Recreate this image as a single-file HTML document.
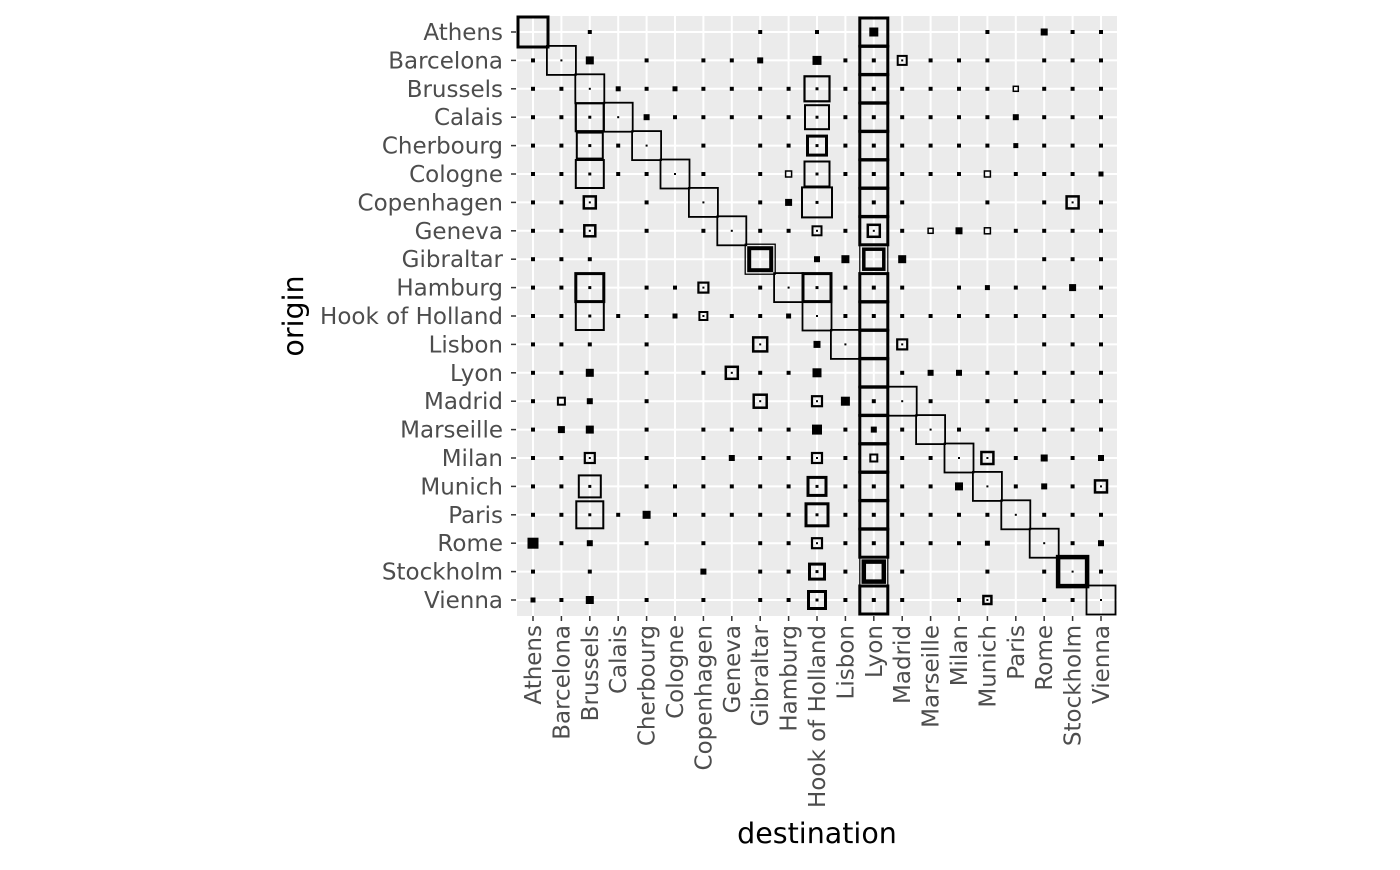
<!DOCTYPE html>
<html><head><meta charset="utf-8"><style>
body{margin:0;background:#fff;}
svg text{font-family:"DejaVu Sans","Liberation Sans",sans-serif;}
</style></head><body>
<svg id="s" width="1400" height="865" viewBox="0 0 1400 865" xmlns="http://www.w3.org/2000/svg">
<rect x="517" y="16" width="600" height="600" fill="#ebebeb"/>
<g id="grid" stroke="#fff" stroke-width="2"></g>
<g id="marks"></g>
<g id="ticks" stroke="#333" stroke-width="1.5"></g>
<g font-size="23" fill="#4d4d4d" text-anchor="end">
<text x="503" y="40">Athens</text>
<text x="503" y="68.4">Barcelona</text>
<text x="503" y="96.8">Brussels</text>
<text x="503" y="125.2">Calais</text>
<text x="503" y="153.6">Cherbourg</text>
<text x="503" y="182">Cologne</text>
<text x="503" y="210.4">Copenhagen</text>
<text x="503" y="238.8">Geneva</text>
<text x="503" y="267.2">Gibraltar</text>
<text x="503" y="295.6">Hamburg</text>
<text x="503" y="324">Hook of Holland</text>
<text x="503" y="352.4">Lisbon</text>
<text x="503" y="380.8">Lyon</text>
<text x="503" y="409.2">Madrid</text>
<text x="503" y="437.6">Marseille</text>
<text x="503" y="466">Milan</text>
<text x="503" y="494.4">Munich</text>
<text x="503" y="522.8">Paris</text>
<text x="503" y="551.2">Rome</text>
<text x="503" y="579.6">Stockholm</text>
<text x="503" y="608">Vienna</text>
</g>
<g font-size="23" fill="#4d4d4d" text-anchor="end">
<text transform="translate(541,625) rotate(-90)">Athens</text>
<text transform="translate(569.4,625) rotate(-90)">Barcelona</text>
<text transform="translate(597.8,625) rotate(-90)">Brussels</text>
<text transform="translate(626.2,625) rotate(-90)">Calais</text>
<text transform="translate(654.6,625) rotate(-90)">Cherbourg</text>
<text transform="translate(683,625) rotate(-90)">Cologne</text>
<text transform="translate(711.4,625) rotate(-90)">Copenhagen</text>
<text transform="translate(739.8,625) rotate(-90)">Geneva</text>
<text transform="translate(768.2,625) rotate(-90)">Gibraltar</text>
<text transform="translate(796.6,625) rotate(-90)">Hamburg</text>
<text transform="translate(825,625) rotate(-90)">Hook of Holland</text>
<text transform="translate(853.4,625) rotate(-90)">Lisbon</text>
<text transform="translate(881.8,625) rotate(-90)">Lyon</text>
<text transform="translate(910.2,625) rotate(-90)">Madrid</text>
<text transform="translate(938.6,625) rotate(-90)">Marseille</text>
<text transform="translate(967,625) rotate(-90)">Milan</text>
<text transform="translate(995.4,625) rotate(-90)">Munich</text>
<text transform="translate(1023.8,625) rotate(-90)">Paris</text>
<text transform="translate(1052.2,625) rotate(-90)">Rome</text>
<text transform="translate(1080.6,625) rotate(-90)">Stockholm</text>
<text transform="translate(1109,625) rotate(-90)">Vienna</text>
</g>
<text x="817" y="843" font-size="28.5" text-anchor="middle" fill="#000">destination</text>
<text transform="translate(303,316) rotate(-90)" font-size="28.5" text-anchor="middle" fill="#000">origin</text>
</svg>
<script>
var X=function(i){return 533+28.4*i}, Y=function(j){return 32+28.4*j};
var g=document.getElementById('grid'),m=document.getElementById('marks'),t=document.getElementById('ticks');
var h='',tk='';
for(var i=0;i<21;i++){h+='<line x1="'+X(i)+'" y1="16" x2="'+X(i)+'" y2="616"/><line x1="517" y1="'+Y(i)+'" x2="1117" y2="'+Y(i)+'"/>';
tk+='<line x1="'+X(i)+'" y1="616" x2="'+X(i)+'" y2="621"/><line x1="511" y1="'+Y(i)+'" x2="516" y2="'+Y(i)+'"/>';}
g.innerHTML=h;t.innerHTML=tk;
var R=[
[2,8,10,[12,'f',9],16,[18,'f',7],19,20],
[0,1,[2,'f',8],4,6,7,[8,'f',6],[10,'f',9],11,12,[13,'b',9,2],14,15,16,18,19,20],
[0,1,2,[3,'f',5],4,[5,'f',5],6,7,8,9,[10,'b',25,2.2],11,12,13,14,15,16,[17,'b',5,1.5],18,19,20],
[0,1,[2,'b',28,2.2],3,[4,'f',6],5,6,7,8,9,[10,'b',24,2],11,12,13,14,15,16,[17,'f',6],18,19,20],
[0,1,[2,'b',26,2],3,4,6,8,9,[10,'b',19,3],11,12,13,14,15,16,[17,'f',5],18,19,20],
[0,1,[2,'b',28,2],3,4,5,6,8,[9,'b',6,1.5],[10,'b',25,2],11,12,13,14,15,[16,'b',6,1.5],17,18,19,[20,'f',5]],
[0,1,[2,'b',12,2.5],4,6,8,[9,'f',7],[10,'b',30,2],12,13,16,18,[19,'b',12,2.5],20],
[0,1,[2,'b',11,2.5],4,6,7,8,9,[10,'b',9,2],11,[12,'b',12,2.5],13,[14,'b',5,1.5],[15,'f',7],[16,'b',6,1.5],17,18,19,20],
[0,1,2,[10,'f',6],[11,'f',8],[13,'f',8],18,19,20],
[0,1,[2,'b',28,3],4,5,[6,'b',10,2.2],8,9,[10,'b',28,3],11,12,13,15,[16,'f',5],17,18,[19,'f',7],20],
[0,1,[2,'b',28,2],3,4,[5,'f',5],[6,'b',8,2],7,8,[9,'f',5],10,11,12,13,14,15,16,17,18,19,20],
[0,1,2,4,[8,'b',14,2.5],[10,'f',7],11,[13,'b',10,2.2],18,19,20],
[0,1,[2,'f',8],4,6,[7,'b',12,2.5],8,9,[10,'f',9],13,[14,'f',6],[15,'f',6],16,17,18,19,20],
[0,[1,'b',7,2],[2,'f',6],4,[8,'b',13,2.5],[10,'b',10,2.2],[11,'f',9],12,13,14,16,17,18,19,20],
[0,[1,'f',7],[2,'f',8],4,6,7,8,9,[10,'f',10],11,[12,'f',6],13,14,15,16,17,18,19,20],
[0,1,[2,'b',10,2.2],4,6,[7,'f',6],8,9,[10,'b',10,2.2],11,[12,'b',7,2],13,14,15,[16,'b',12,2.5],17,[18,'f',7],19,[20,'f',6]],
[0,1,[2,'b',22,2],4,5,6,7,8,9,[10,'b',18,3],11,12,13,14,[15,'f',8],16,17,[18,'f',6],19,[20,'b',12,2.5]],
[0,1,[2,'b',27,2],3,[4,'f',8],5,6,7,8,9,[10,'b',22,3],11,12,13,14,15,16,17,18,19,20],
[[0,'f',11],1,[2,'f',6],4,6,8,9,[10,'b',10,2.2],11,12,13,14,15,[16,'f',5],18,19,[20,'f',6]],
[0,2,[6,'f',6],8,9,[10,'b',15,3],11,13,16,18,19,20],
[[0,'f',5],1,[2,'f',8],4,6,8,9,[10,'b',17,3],11,12,13,15,[16,'b',8,2.5],18,19,20]
];
var s='';
function box(x,y,sz,w){s+='<rect x="'+(x-sz/2)+'" y="'+(y-sz/2)+'" width="'+sz+'" height="'+sz+'" fill="none" stroke="#000" stroke-width="'+w+'"/>';}
function fill(x,y,sz){s+='<rect x="'+(x-sz/2)+'" y="'+(y-sz/2)+'" width="'+sz+'" height="'+sz+'" fill="#000"/>';}
for(var j=0;j<21;j++){ if(j==8||j==19){box(X(12),Y(j),28,1.2);box(X(12),Y(j),20,j==19?4.5:3.5);} else box(X(12),Y(j),28,3);}
for(var j=0;j<21;j++){var x=X(j),y=Y(j);
 if(j==0)box(x,y,30,3);else if(j==8){box(x,y,30,1.3);box(x,y,22,4);}else if(j==19)box(x,y,29,4.5);else if(j!=12)box(x,y,29,1.8);}
for(var j=0;j<21;j++){R[j].forEach(function(it){
 if(typeof it=='number'){fill(X(it),Y(j),it==j?2:4);}
 else if(it[1]=='f')fill(X(it[0]),Y(j),it[2]);
 else {box(X(it[0]),Y(j),it[2],it[3]); if(it[2]>14)fill(X(it[0]),Y(j),3); else if(it[2]>7)fill(X(it[0]),Y(j),2);}
});}
m.innerHTML=s;
</script>
</body></html>
